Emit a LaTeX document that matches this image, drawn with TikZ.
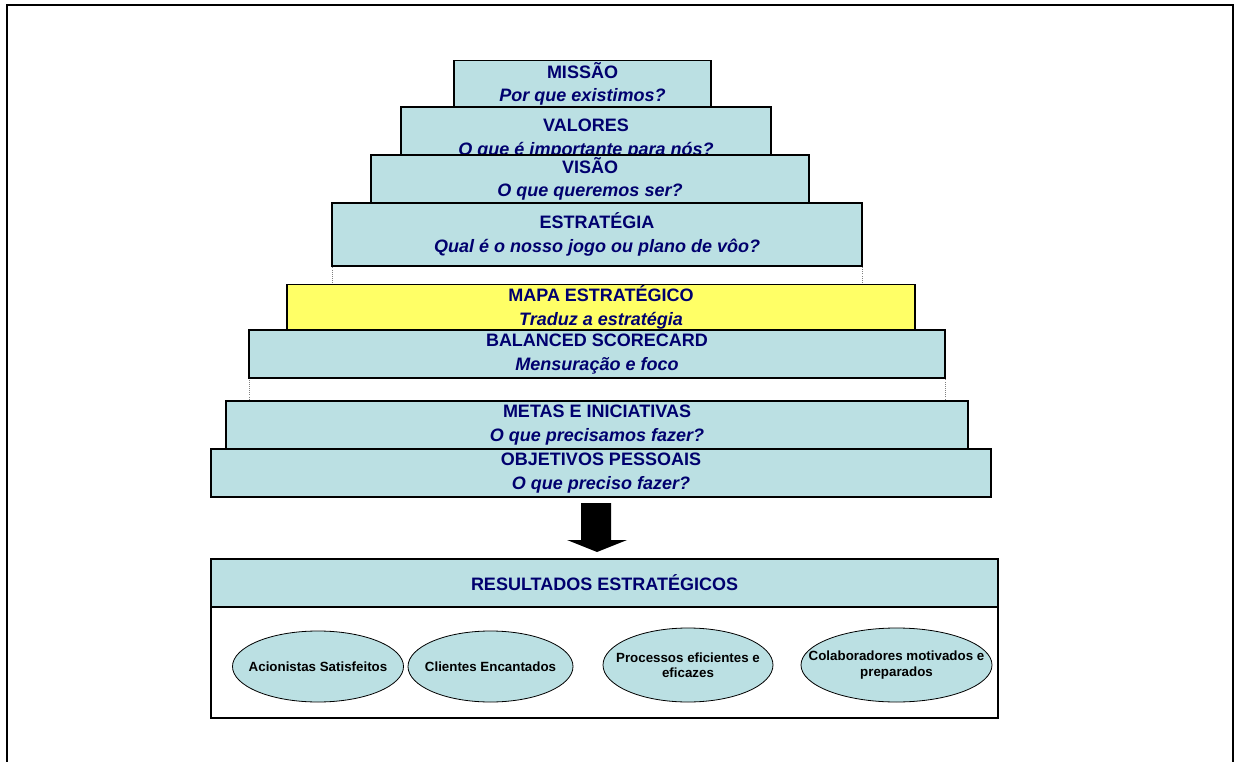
\documentclass[tikz,border=0pt]{standalone}
\usepackage{fontspec}
\setmainfont{Liberation Sans}
\usetikzlibrary{shapes.geometric}

\definecolor{azulclaro}{RGB}{187,224,227}
\definecolor{azulescuro}{RGB}{0,0,110}
\definecolor{amarelo}{RGB}{255,255,102}

\begin{document}
\begin{tikzpicture}[x=0.75pt,y=-0.75pt]
   \tikzstyle{degrau}=[draw=black, line width=0.9pt, fill=azulclaro, inner sep=0pt, align=center, text=azulescuro, font=\fontsize{13.5}{17.5}\selectfont\bfseries]
   \tikzstyle{faixa}=[draw=gray, densely dotted, line width=0.6pt, inner sep=0pt]
   \tikzstyle{elipse}=[draw=black, line width=0.6pt, fill=azulclaro, ellipse, inner sep=0pt]
   \tikzstyle{eltexto}=[align=center, inner sep=0pt, font=\fontsize{10}{11.5}\selectfont\bfseries]

\useasboundingbox (0,0) rectangle (1234,762);
\draw[line width=1.5pt] (7,762) -- (7,5) -- (1233,5) -- (1233,762);

% piramide
\node[degrau, minimum width=192.75pt, minimum height=35.25pt] (missao) at (582.5,84) {MISSÃO\\\textit{Por que existimos?}};
\node[degrau, minimum width=277.5pt, minimum height=36pt] (valores) at (586,131) {};
\node[degrau, draw=none, fill=none] (valorestxt) at (586,139) {VALORES\\\textit{O que é importante para nós?}};
\node[degrau, minimum width=328.5pt, minimum height=36pt] (visao) at (590,179) {VISÃO\\\textit{O que queremos ser?}};
\node[faixa, minimum width=397.5pt, minimum height=13.5pt] (faixa1) at (597,275) {};
\node[degrau, minimum width=397.5pt, minimum height=47.25pt] (estrategia) at (597,234.5) {ESTRATÉGIA\\\textit{Qual é o nosso jogo ou plano de vôo?}};
\node[degrau, fill=amarelo, minimum width=471pt, minimum height=34.5pt] (mapa) at (601,307.5) {MAPA ESTRATÉGICO\\\textit{Traduz a estratégia}};
\node[faixa, minimum width=522pt, minimum height=17.25pt] (faixa2) at (597,389.5) {};
\node[degrau, minimum width=522pt, minimum height=36pt] (balanced) at (597,354) {BALANCED SCORECARD\\\textit{Mensuração e foco}};
\node[degrau, minimum width=556.5pt, minimum height=36pt] (metas) at (597,425) {METAS E INICIATIVAS\\\textit{O que precisamos fazer?}};
\node[degrau, minimum width=585pt, minimum height=36pt] (objetivos) at (601,473) {OBJETIVOS PESSOAIS\\\textit{O que preciso fazer?}};

% seta
\fill[black] (581,503) -- (611,503) -- (611,540) -- (627,540) -- (597,552) -- (567,540) -- (581,540) -- cycle;

% resultados
\node[degrau, fill=white, minimum width=590.25pt, minimum height=119.25pt] (resultados) at (604.5,638.5) {};
\node[degrau, minimum width=590.25pt, minimum height=36pt] (restitulo) at (604.5,583) {RESULTADOS ESTRATÉGICOS};

\node[elipse, minimum width=128.25pt, minimum height=53.25pt] (acionistas) at (318,666.5) {};
\node[eltexto] (acionistastxt) at (acionistas) {Acionistas Satisfeitos};
\node[elipse, minimum width=123.75pt, minimum height=53.25pt] (clientes) at (490.5,666.5) {};
\node[eltexto] (clientestxt) at (clientes) {Clientes Encantados};
\node[elipse, minimum width=127.5pt, minimum height=55.5pt] (processos) at (688,665) {};
\node[eltexto] (processostxt) at (processos) {Processos eficientes e\\eficazes};
\node[elipse, minimum width=143.25pt, minimum height=55.5pt] (colaboradores) at (896.5,665) {};
\node[eltexto] (colaboradorestxt) at (colaboradores) {Colaboradores motivados e\\preparados};

\end{tikzpicture}
\end{document}
